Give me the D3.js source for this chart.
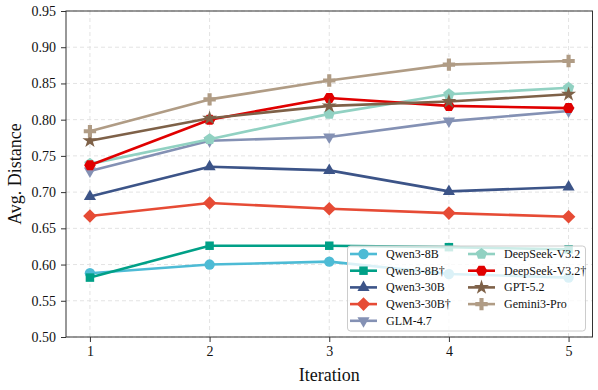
<!DOCTYPE html>
<html>
<head>
<meta charset="utf-8">
<script src="https://cdn.jsdelivr.net/npm/d3@7"></script>
<style>
  html, body { margin: 0; padding: 0; background: #fff; }
  svg { display: block; font-family: "Liberation Serif", "Times New Roman", serif; }
  text { font-family: "Liberation Serif", "Times New Roman", serif; }
</style>
</head>
<body>
<svg id="chart" width="598" height="390"></svg>
<script>
// ---- data ----
const iterations = [1, 2, 3, 4, 5];
const seriesNames = ["Qwen3-8B", "Qwen3-8B†", "Qwen3-30B", "Qwen3-30B†", "GLM-4.7",
                     "DeepSeek-V3.2", "DeepSeek-V3.2†", "GPT-5.2", "Gemini3-Pro"];
const qwen3_8b      = [0.588, 0.600, 0.604, 0.587, 0.582];
const qwen3_8b_d    = [0.582, 0.626, 0.626, 0.624, 0.621];
const qwen3_30b     = [0.694, 0.735, 0.730, 0.701, 0.707];
const qwen3_30b_d   = [0.667, 0.685, 0.677, 0.671, 0.666];
const glm47         = [0.729, 0.771, 0.776, 0.798, 0.812];
const deepseek      = [0.739, 0.773, 0.808, 0.835, 0.844];
const deepseek_d    = [0.737, 0.800, 0.830, 0.819, 0.816];
const gpt52         = [0.771, 0.802, 0.819, 0.825, 0.835];
const gemini3       = [0.784, 0.828, 0.854, 0.876, 0.881];
const yTicks = [0.50, 0.55, 0.60, 0.65, 0.70, 0.75, 0.80, 0.85, 0.90, 0.95];
const xLabel = "Iteration";
const yLabel = "Avg. Distance";

const seriesValues = [qwen3_8b, qwen3_8b_d, qwen3_30b, qwen3_30b_d, glm47,
                      deepseek, deepseek_d, gpt52, gemini3];
const colors = ["#4DBBD5", "#00A087", "#3C5488", "#E64B35", "#8491B4",
                "#91D1C2", "#E00000", "#7E6148", "#B09C85"];
const markers = ["circle", "square", "triUp", "diamond", "triDown",
                 "pentagon", "hexagon", "star", "cross"];

// ---- layout ----
const FONT = '"Liberation Serif", "Times New Roman", serif';
const L = 66, R = 592.5, T = 11, B = 337;
const svg = d3.select("#chart");
const x = d3.scaleLinear().domain([0.8, 5.2]).range([L, R]);
const y = d3.scaleLinear().domain([0.5, 0.95]).range([B, T]);

// grid
const grid = svg.append("g");
grid.selectAll(".gy").data(yTicks).join("line")
  .attr("x1", L).attr("x2", R)
  .attr("y1", d => y(d)).attr("y2", d => y(d))
  .attr("stroke", "#e3e3e3").attr("stroke-width", 1).attr("stroke-dasharray", "4,3");
grid.selectAll(".gx").data(iterations).join("line")
  .attr("y1", T).attr("y2", B)
  .attr("x1", d => x(d)).attr("x2", d => x(d))
  .attr("stroke", "#e3e3e3").attr("stroke-width", 1).attr("stroke-dasharray", "4,3");

// axes
const xAxis = d3.axisBottom(x).tickValues(iterations).tickFormat(d3.format("d"))
  .tickSize(5).tickPadding(4);
const yAxis = d3.axisLeft(y).tickValues(yTicks).tickFormat(d3.format(".2f"))
  .tickSize(5).tickPadding(5);
const gx = svg.append("g").attr("transform", `translate(0,${B})`).call(xAxis);
const gy = svg.append("g").attr("transform", `translate(${L},0)`).call(yAxis);
[gx, gy].forEach(g => {
  g.attr("font-family", FONT).attr("font-size", 14);
  g.select(".domain").remove();
  g.selectAll("line").attr("stroke", "#333");
  g.selectAll("text").attr("fill", "#111").attr("font-family", FONT)
    .style("font-size", "14px");
});

// marker shapes
function polygon(n, r, rot) {
  const pts = [];
  for (let i = 0; i < n; i++) {
    const a = rot + i * 2 * Math.PI / n;
    pts.push([r * Math.cos(a), r * Math.sin(a)]);
  }
  return "M" + pts.map(p => p.join(",")).join("L") + "Z";
}
function markerPath(kind) {
  switch (kind) {
    case "circle": return d3.symbol(d3.symbolCircle, 85)();
    case "square": return d3.symbol(d3.symbolSquare, 72)();
    case "triUp": return polygon(3, 7, -Math.PI / 2);
    case "triDown": return polygon(3, 7, Math.PI / 2);
    case "diamond": return polygon(4, 6.8, -Math.PI / 2);
    case "pentagon": return polygon(5, 6, -Math.PI / 2);
    case "hexagon": return polygon(6, 5.8, 0);
    case "star": return d3.symbol(d3.symbolStar, 70)();
    case "cross": return d3.symbol(d3.symbolCross, 85)();
  }
}

// lines
const line = d3.line().x((d, i) => x(iterations[i])).y(d => y(d));
seriesValues.forEach((vals, k) => {
  const g = svg.append("g");
  g.append("path").datum(vals).attr("d", line)
    .attr("fill", "none").attr("stroke", colors[k]).attr("stroke-width", 2.6)
    .attr("stroke-linejoin", "round");
  g.selectAll("path.m").data(vals).join("path").attr("class", "m")
    .attr("d", markerPath(markers[k]))
    .attr("transform", (d, i) => `translate(${x(iterations[i])},${y(d)})`)
    .attr("fill", colors[k]);
});

// frame
svg.append("rect").attr("x", L).attr("y", T).attr("width", R - L).attr("height", B - T)
  .attr("fill", "none").attr("stroke", "#333").attr("stroke-width", 1);

// axis titles
svg.append("text").attr("x", (L + R) / 2).attr("y", 381).attr("text-anchor", "middle")
  .attr("font-family", FONT).style("font-size", "18px").attr("fill", "#111").text(xLabel);
svg.append("text").attr("transform", `translate(21,${(T + B) / 2}) rotate(-90)`)
  .attr("font-family", FONT).attr("text-anchor", "middle").style("font-size", "18px")
  .attr("fill", "#111").text(yLabel);

// legend
const lg = svg.append("g");
lg.append("rect").attr("x", 347.5).attr("y", 246).attr("width", 238).attr("height", 85)
  .attr("rx", 3).attr("fill", "#fff").attr("fill-opacity", 0.8)
  .attr("stroke", "#cccccc").attr("stroke-width", 1);
const colX = [350, 468], rowY0 = 254, rowDy = 16.7;
seriesNames.forEach((name, k) => {
  const col = k < 5 ? 0 : 1, row = k < 5 ? k : k - 5;
  const lx = colX[col], ly = rowY0 + row * rowDy;
  lg.append("line").attr("x1", lx).attr("x2", lx + 27).attr("y1", ly).attr("y2", ly)
    .attr("stroke", colors[k]).attr("stroke-width", 2.6);
  lg.append("path").attr("d", markerPath(markers[k]))
    .attr("transform", `translate(${lx + 13.5},${ly})`).attr("fill", colors[k]);
  lg.append("text").attr("x", lx + 36).attr("y", ly + 4).attr("font-family", FONT)
    .style("font-size", "12px").attr("fill", "#111").text(name);
});
</script>
</body>
</html>
